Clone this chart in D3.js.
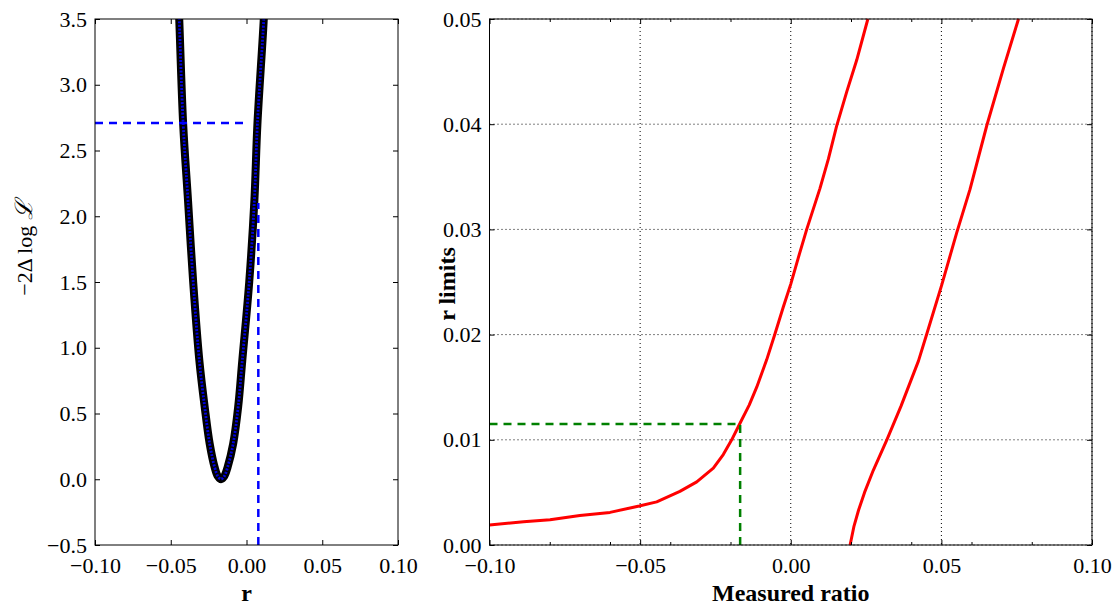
<!DOCTYPE html>
<html><head><meta charset="utf-8">
<script src="https://cdn.jsdelivr.net/npm/d3@7"></script>
<style>
body{margin:0;background:#fff}
text{font-family:"Liberation Serif","DejaVu Serif",serif;fill:#000}
</style>
</head><body>
<svg id="c" width="1117" height="606"></svg>
<script>
// ---------- data ----------
// left panel: likelihood profile -2ΔlogL vs r
const likeR = [-0.0452,-0.0444,-0.0418,-0.0386,-0.0352,-0.0311,-0.0276,-0.0243,-0.0210,-0.0189,-0.0168,-0.0147,-0.0125,-0.0088,-0.0055,-0.0028,0.0018,0.0052,0.0072,0.0114,0.0121];
const likeY = [3.72,3.50,2.70,2.12,1.50,0.90,0.55,0.27,0.090,0.022,0.0,0.022,0.090,0.27,0.55,0.90,1.50,2.12,2.70,3.50,3.72];
const threshold = 2.71;          // horizontal dashed level
const upperLimitR = 0.0078;      // vertical dashed position
const upperLimitTop = 2.1;       // vertical dashed top
// right panel: r limits vs measured ratio
const lowerCurveX = [-0.100,-0.0887,-0.0799,-0.0700,-0.0600,-0.0503,-0.0445,-0.0368,-0.0312,-0.0257,-0.0224,-0.0196,-0.0168,-0.0138,-0.0113,-0.0080,-0.0052,-0.0025,0.0000,0.0025,0.0053,0.0097,0.0125,0.0152,0.0186,0.0219,0.0256];
const lowerCurveY = [0.0019,0.0022,0.0024,0.0028,0.0031,0.0037,0.0041,0.0051,0.0060,0.0073,0.0086,0.0100,0.0116,0.0133,0.0150,0.0176,0.0201,0.0226,0.0248,0.0273,0.0300,0.0339,0.0367,0.0398,0.0431,0.0461,0.0500];
const upperCurveX = [0.0197,0.0210,0.0225,0.0245,0.0274,0.0319,0.0366,0.0424,0.0452,0.0501,0.0551,0.0595,0.0651,0.0706,0.0756];
const upperCurveY = [0.0000,0.0018,0.0033,0.0050,0.0071,0.0100,0.0132,0.0175,0.0201,0.0247,0.0297,0.0338,0.0399,0.0453,0.0500];
const measuredRatio = -0.0168;
const rLimit = 0.0115;
// ticks
const leftXTicks = [-0.10,-0.05,0.00,0.05,0.10];
const leftYTicks = [-0.5,0.0,0.5,1.0,1.5,2.0,2.5,3.0,3.5];
const rightXTicks = [-0.10,-0.05,0.00,0.05,0.10];
const rightXMinor = [-0.08,-0.06,-0.04,-0.02,0.02,0.04,0.06,0.08];
const rightYTicks = [0.00,0.01,0.02,0.03,0.04,0.05];

// ---------- layout ----------
const svg = d3.select("#c");
const FS = 22;
const minus = s => s.replace(/-/g, "\u2212");
const L = {x0:95, x1:398, y0:19, y1:545};
const R = {x0:489.5, x1:1092, y0:19, y1:545};

function frameAxes(g, x, y, xt, yt, fx, fy, xMinor){
  const W = x.range()[1]-x.range()[0], H = y.range()[0]-y.range()[1];
  const tl = 5;
  g.append("g").attr("transform",`translate(0,${y.range()[0]})`)
    .call(d3.axisBottom(x).tickValues(xt).tickSizeInner(-tl).tickSizeOuter(0).tickPadding(12).tickFormat(d=>minus(fx(d))));
  g.append("g").attr("transform",`translate(0,${y.range()[1]})`)
    .call(d3.axisTop(x).tickValues(xt).tickSizeInner(-tl).tickSizeOuter(0).tickFormat(""));
  g.append("g").attr("transform",`translate(${x.range()[0]},0)`)
    .call(d3.axisLeft(y).tickValues(yt).tickSizeInner(-tl).tickSizeOuter(0).tickPadding(8).tickFormat(d=>minus(fy(d))));
  g.append("g").attr("transform",`translate(${x.range()[1]},0)`)
    .call(d3.axisRight(y).tickValues(yt).tickSizeInner(-tl).tickSizeOuter(0).tickFormat(""));
  if (xMinor){
    g.append("g").attr("transform",`translate(0,${y.range()[0]})`)
      .call(d3.axisBottom(x).tickValues(xMinor).tickSizeInner(-3).tickSizeOuter(0).tickFormat(""));
    g.append("g").attr("transform",`translate(0,${y.range()[1]})`)
      .call(d3.axisTop(x).tickValues(xMinor).tickSizeInner(-3).tickSizeOuter(0).tickFormat(""));
  }
  g.selectAll(".domain").attr("stroke","none");
  g.selectAll(".tick line").attr("stroke","#000").attr("stroke-width",1);
  g.selectAll(".tick text").attr("font-size",FS).attr("font-family",'"Liberation Serif","DejaVu Serif",serif').attr("fill","#000");
  g.append("rect").attr("x",x.range()[0]).attr("y",y.range()[1]).attr("width",W).attr("height",H)
    .attr("fill","none").attr("stroke","#000").attr("stroke-width",1);
}

// ---------- left panel ----------
const xL = d3.scaleLinear().domain([-0.10,0.10]).range([L.x0,L.x1]);
const yL = d3.scaleLinear().domain([-0.5,3.5]).range([L.y1,L.y0]);
const gL = svg.append("g");
svg.append("defs").append("clipPath").attr("id","clipL").append("rect")
  .attr("x",L.x0).attr("y",L.y0).attr("width",L.x1-L.x0).attr("height",L.y1-L.y0);
const likeData = likeR.map((r,i)=>({r, v:likeY[i]}));
const likeLine = d3.line().x(d=>xL(d.r)).y(d=>yL(d.v)).curve(d3.curveCatmullRom.alpha(0.5));
const cl = gL.append("g").attr("clip-path","url(#clipL)");
cl.append("path").datum(likeData).attr("d",likeLine).attr("fill","none")
  .attr("stroke","#000").attr("stroke-width",8).attr("stroke-linejoin","round").attr("stroke-linecap","round");
cl.append("path").datum(likeData).attr("d",likeLine).attr("fill","none")
  .attr("stroke","#0000e0").attr("stroke-width",2.8).attr("stroke-dasharray","2,1.5");
// dashed guides
gL.append("line").attr("x1",xL(-0.10)).attr("x2",xL(0.0)).attr("y1",yL(threshold)).attr("y2",yL(threshold))
  .attr("stroke","#0000ff").attr("stroke-width",2.5).attr("stroke-dasharray","8,6");
gL.append("line").attr("x1",xL(upperLimitR)).attr("x2",xL(upperLimitR)).attr("y1",yL(-0.5)).attr("y2",yL(upperLimitTop))
  .attr("stroke","#0000ff").attr("stroke-width",2.5).attr("stroke-dasharray","8,6");
frameAxes(gL, xL, yL, leftXTicks, leftYTicks, d3.format(".2f"), d3.format(".1f"), null);
gL.append("text").attr("x",(L.x0+L.x1)/2).attr("y",601).attr("text-anchor","middle")
  .attr("font-size",24).attr("font-weight","bold").text("r");
const yl = gL.append("text").attr("transform","translate(32,248) rotate(-90)").attr("text-anchor","middle").attr("font-size",FS);
yl.append("tspan").text("\u22122\u0394 log ");
yl.append("tspan").attr("font-style","italic").attr("font-family","DejaVu Serif").attr("font-size",24).text("\u2112");

// ---------- right panel ----------
const xR = d3.scaleLinear().domain([-0.10,0.10]).range([R.x0,R.x1]);
const yR = d3.scaleLinear().domain([0.00,0.05]).range([R.y1,R.y0]);
const gR = svg.append("g");
// grid
gR.append("g").selectAll("line").data(rightXTicks).join("line")
  .attr("x1",d=>xR(d)).attr("x2",d=>xR(d)).attr("y1",R.y0).attr("y2",R.y1)
  .attr("stroke","#000").attr("stroke-width",1).attr("stroke-dasharray","1,3");
gR.append("g").selectAll("line").data(rightYTicks).join("line")
  .attr("x1",R.x0).attr("x2",R.x1).attr("y1",d=>yR(d)).attr("y2",d=>yR(d))
  .attr("stroke","#000").attr("stroke-width",1).attr("stroke-dasharray","1,3");
const redLine = d3.line().x(d=>xR(d[0])).y(d=>yR(d[1]));
gR.append("path").datum(lowerCurveX.map((x,i)=>[x,lowerCurveY[i]])).attr("d",redLine)
  .attr("fill","none").attr("stroke","#ff0000").attr("stroke-width",3).attr("stroke-linejoin","round");
gR.append("path").datum(upperCurveX.map((x,i)=>[x,upperCurveY[i]])).attr("d",redLine)
  .attr("fill","none").attr("stroke","#ff0000").attr("stroke-width",3).attr("stroke-linejoin","round");
gR.append("line").attr("x1",xR(-0.10)).attr("x2",xR(measuredRatio)).attr("y1",yR(rLimit)).attr("y2",yR(rLimit))
  .attr("stroke","#008000").attr("stroke-width",2.5).attr("stroke-dasharray","8,6");
gR.append("line").attr("x1",xR(measuredRatio)).attr("x2",xR(measuredRatio)).attr("y1",yR(0)).attr("y2",yR(rLimit))
  .attr("stroke","#008000").attr("stroke-width",2.5).attr("stroke-dasharray","8,6");
frameAxes(gR, xR, yR, rightXTicks, rightYTicks, d3.format(".2f"), d3.format(".2f"), rightXMinor);
gR.append("text").attr("x",(R.x0+R.x1)/2).attr("y",601).attr("text-anchor","middle")
  .attr("font-size",24).attr("font-weight","bold").text("Measured ratio");
gR.append("text").attr("transform","translate(455,284) rotate(-90)").attr("text-anchor","middle")
  .attr("font-size",24).attr("font-weight","bold").text("r limits");
</script>
</body></html>
